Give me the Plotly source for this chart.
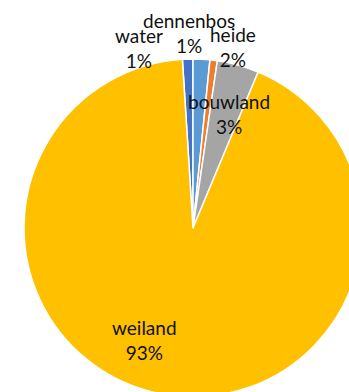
import plotly.graph_objects as go

labels = ["water", "dennenbos", "heide", "bouwland", "weiland"]
values = [1.0, 1.6, 0.7, 4.0, 92.7]
pct_text = ["1%", "1%", "2%", "3%", "93%"]
colors = ["#4472C4", "#5B9BD5", "#ED7D31", "#A5A5A5", "#FFC000"]

# label anchor points in page pixels (x, y) for each slice label
label_px = [(139, 48), (189, 33), (233, 47), (229, 114), (144, 340)]

W, H = 386, 456
cx, cy, r = 193, 228, 169

fig = go.Figure(go.Pie(
    labels=labels,
    values=values,
    sort=False,
    direction="clockwise",
    rotation=-3.6,
    marker=dict(colors=colors, line=dict(color="white", width=1.5)),
    textinfo="none",
    hoverinfo="label+percent",
    showlegend=False,
    domain=dict(x=[0, 1], y=[(H - cy - r) / H, (H - cy + r) / H]),
))

for lab, pct, (px, py) in zip(labels, pct_text, label_px):
    fig.add_annotation(
        x=px / W, y=1 - py / H, xref="paper", yref="paper",
        text=f"{lab}<br>{pct}", showarrow=False,
        font=dict(family="Lato, sans-serif", size=19, color="#111111"),
        xanchor="center", yanchor="middle", align="center",
    )

fig.update_layout(
    width=W, height=H,
    margin=dict(l=0, r=0, t=0, b=0),
    paper_bgcolor="white", plot_bgcolor="white",
)

fig.write_html(
    "out.html",
    config={"displayModeBar": False},
    post_script="document.body.style.margin='0';document.body.style.overflow='hidden';document.documentElement.style.overflow='hidden';",
)
